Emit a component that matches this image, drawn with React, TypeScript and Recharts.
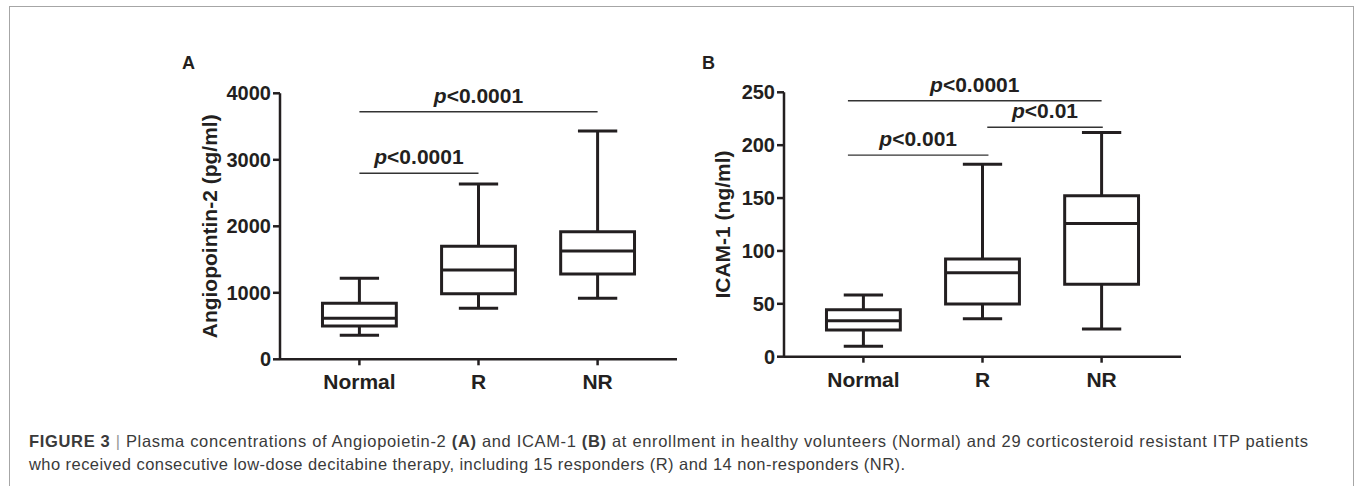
import React from 'react'
import { ComposedChart, XAxis, YAxis, Scatter, ReferenceArea, ReferenceLine, Label } from 'recharts'

// groups on the x axis (numeric positions so brackets can sit between groups)
const categories = ['Normal', 'R', 'NR']
const categoryX = [1, 2, 3]

// Angiopoietin-2 (pg/ml)
const angLow = [361, 767, 917]
const angQ1 = [500, 987, 1283]
const angMedian = [616, 1343, 1629]
const angQ3 = [842, 1699, 1919]
const angHigh = [1218, 2636, 3433]
const angTicks = [0, 1000, 2000, 3000, 4000]
const angSig = [
  { from: 1, to: 3, y: 3723, text: '<0.0001' },
  { from: 1, to: 2, y: 2797, text: '<0.0001' },
]

// ICAM-1 (ng/ml)
const icamLow = [9.8, 36, 26.2]
const icamQ1 = [25.2, 49.8, 68.4]
const icamMedian = [34, 79.4, 126]
const icamQ3 = [44.4, 92.3, 152.2]
const icamHigh = [58.3, 182, 212]
const icamTicks = [0, 50, 100, 150, 200, 250]
const icamSig = [
  { from: 0.87, to: 3, y: 242, text: '<0.0001' },
  { from: 2.04, to: 3.01, y: 217, text: '<0.01' },
  { from: 0.87, to: 2.05, y: 190.6, text: '<0.001' },
]

const INK = '#231f20'
const FONT = '"Liberation Sans", Arial, Helvetica, sans-serif'
const BOX_HALF = 0.31
const CAP_HALF = 0.165

type Row = { x: number; name: string; low: number; q1: number; median: number; q3: number; high: number }
type Sig = { from: number; to: number; y: number; text: string }

function buildRows(low: number[], q1: number[], median: number[], q3: number[], high: number[]): Row[] {
  return categories.map((name, i) => ({
    x: categoryX[i],
    name,
    low: low[i],
    q1: q1[i],
    median: median[i],
    q3: q3[i],
    high: high[i],
  }))
}

const angRows = buildRows(angLow, angQ1, angMedian, angQ3, angHigh)
const icamRows = buildRows(icamLow, icamQ1, icamMedian, icamQ3, icamHigh)

const seg = (x1: number, y1: number, x2: number, y2: number) => [
  { x: x1, y: y1 },
  { x: x2, y: y2 },
]

function renderBox(r: Row) {
  const line = { stroke: INK, strokeWidth: 3, ifOverflow: 'visible' as const }
  return [
    <ReferenceArea
      key={`box-${r.name}`}
      x1={r.x - BOX_HALF}
      x2={r.x + BOX_HALF}
      y1={r.q1}
      y2={r.q3}
      fill="none"
      fillOpacity={0}
      stroke={INK}
      strokeWidth={3}
      ifOverflow="visible"
    />,
    <ReferenceLine key={`med-${r.name}`} segment={seg(r.x - BOX_HALF, r.median, r.x + BOX_HALF, r.median)} {...line} />,
    <ReferenceLine key={`wup-${r.name}`} segment={seg(r.x, r.q3, r.x, r.high)} {...line} />,
    <ReferenceLine key={`wdn-${r.name}`} segment={seg(r.x, r.q1, r.x, r.low)} {...line} />,
    <ReferenceLine key={`cup-${r.name}`} segment={seg(r.x - CAP_HALF, r.high, r.x + CAP_HALF, r.high)} {...line} />,
    <ReferenceLine key={`cdn-${r.name}`} segment={seg(r.x - CAP_HALF, r.low, r.x + CAP_HALF, r.low)} {...line} />,
  ]
}

const pLabel = (text: string) => (props: any) => {
  const vb = props.viewBox || {}
  const cx = (vb.x || 0) + (vb.width || 0) / 2
  return (
    <text x={cx} y={(vb.y || 0) - 9} textAnchor="middle" fill={INK} fontFamily={FONT} fontWeight="bold" fontSize={21}>
      <tspan fontStyle="italic">p</tspan>
      <tspan>{text}</tspan>
    </text>
  )
}

function renderSig(s: Sig, i: number) {
  return (
    <ReferenceLine
      key={`sig-${i}`}
      segment={seg(s.from, s.y, s.to, s.y)}
      stroke="#333"
      strokeWidth={1.4}
      ifOverflow="visible"
      label={{ content: pLabel(s.text) } as any}
    />
  )
}

const yTitle = (title: string, dx: number) => (props: any) => {
  const vb = props.viewBox || {}
  const x = (vb.x || 0) + dx
  const y = (vb.y || 0) + (vb.height || 0) / 2
  return (
    <text
      x={x}
      y={y}
      transform={`rotate(-90 ${x} ${y})`}
      textAnchor="middle"
      dominantBaseline="central"
      fill={INK}
      fontFamily={FONT}
      fontWeight="bold"
      fontSize={21}
    >
      {title}
    </text>
  )
}

type PanelProps = {
  rows: Row[]
  sig: Sig[]
  ticks: number[]
  title: string
  titleDx: number
  width: number
  yAxisWidth: number
  margin: { top: number; right: number; bottom: number; left: number }
}

function BoxPanel({ rows, sig, ticks, title, titleDx, width, yAxisWidth, margin }: PanelProps) {
  const tickStyle = { fill: INK, fontSize: 20, fontWeight: 'bold', fontFamily: FONT }
  const axisLine = { stroke: INK, strokeWidth: 2.5 }
  return (
    <ComposedChart width={width} height={420} margin={margin} style={{ overflow: 'visible' }}>
      <XAxis
        type="number"
        dataKey="x"
        domain={[1 / 3, 11 / 3]}
        ticks={categoryX}
        tickFormatter={(v: number) => categories[categoryX.indexOf(v)] ?? ''}
        allowDataOverflow
        height={40}
        tickSize={6}
        tickMargin={9}
        axisLine={axisLine}
        tickLine={axisLine}
        tick={{ ...tickStyle, fontSize: 21 }}
        interval={0}
      />
      <YAxis
        type="number"
        dataKey="median"
        domain={[ticks[0], ticks[ticks.length - 1]]}
        ticks={ticks}
        allowDataOverflow
        width={yAxisWidth}
        tickSize={7}
        tickMargin={2}
        axisLine={axisLine}
        tickLine={axisLine}
        tick={tickStyle}
        interval={0}
      >
        <Label content={yTitle(title, titleDx)} />
      </YAxis>
      <Scatter data={rows} dataKey="median" shape={() => <g />} isAnimationActive={false} />
      {rows.map(renderBox)}
      {sig.map(renderSig)}
    </ComposedChart>
  )
}

export default function App() {
  return (
    <div style={{ position: 'absolute', left: 0, top: 0, width: 1355, height: 486, background: '#fff', overflow: 'hidden', fontFamily: FONT }}>
      <div
        style={{
          position: 'absolute',
          left: 9,
          top: 6,
          width: 1343,
          height: 520,
          borderTop: '1.5px solid #a6a6a6',
          borderLeft: '1.5px solid #a6a6a6',
          borderRight: '1.5px solid #a6a6a6',
        }}
      />
      <div style={{ position: 'absolute', left: 0, top: 0 }}>
        <BoxPanel
          rows={angRows}
          sig={angSig}
          ticks={angTicks}
          title="Angiopointin-2 (pg/ml)"
          titleDx={210}
          width={700}
          yAxisWidth={280}
          margin={{ top: 93.3, right: 23, bottom: 20.7, left: 0 }}
        />
      </div>
      <div style={{ position: 'absolute', left: 700, top: 0 }}>
        <BoxPanel
          rows={icamRows}
          sig={icamSig}
          ticks={icamTicks}
          title="ICAM-1 (ng/ml)"
          titleDx={22}
          width={520}
          yAxisWidth={84}
          margin={{ top: 92.3, right: 39, bottom: 23.3, left: 0 }}
        />
      </div>
      <svg width={1355} height={486} style={{ position: 'absolute', left: 0, top: 0, pointerEvents: 'none' }}>
        <text x={182} y={69} fontFamily={FONT} fontWeight="bold" fontSize={18} fill={INK}>A</text>
        <text x={702} y={69} fontFamily={FONT} fontWeight="bold" fontSize={18} fill={INK}>B</text>
        <text x={29} y={447} fontFamily={FONT} fontSize={16.5} fill="#3a3a3a" textLength={1279} lengthAdjust="spacing">
          <tspan fontWeight="bold">FIGURE 3</tspan>
          <tspan fill="#999"> | </tspan>
          <tspan>Plasma concentrations of Angiopoietin-2 </tspan>
          <tspan fontWeight="bold">(A)</tspan>
          <tspan> and ICAM-1 </tspan>
          <tspan fontWeight="bold">(B)</tspan>
          <tspan> at enrollment in healthy volunteers (Normal) and 29 corticosteroid resistant ITP patients</tspan>
        </text>
        <text x={29} y={470} fontFamily={FONT} fontSize={16.5} fill="#3a3a3a" textLength={876} lengthAdjust="spacing">
          who received consecutive low-dose decitabine therapy, including 15 responders (R) and 14 non-responders (NR).
        </text>
      </svg>
    </div>
  )
}
